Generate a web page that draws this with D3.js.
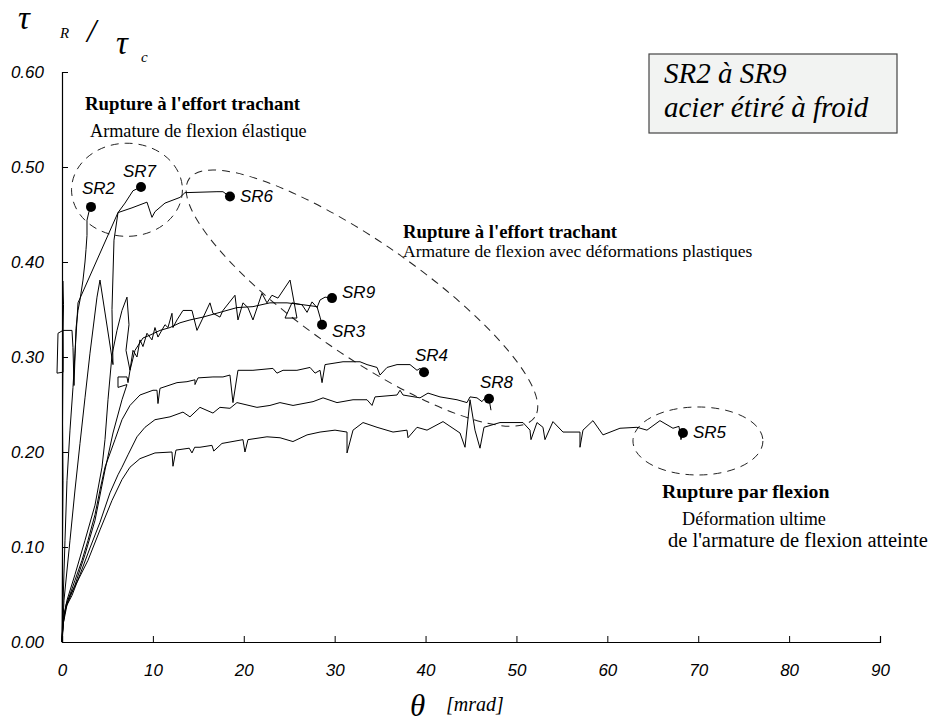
<!DOCTYPE html>
<html><head><meta charset="utf-8">
<script src="https://cdn.jsdelivr.net/npm/d3@7"></script>
<style>body{margin:0;background:#fff} svg{display:block}</style>
</head><body>
<svg id="c" width="948" height="722"></svg>
<script>
const xTicks = [0,10,20,30,40,50,60,70,80,90];
const yTicks = [0,0.1,0.2,0.3,0.4,0.5,0.6];
const specimens = ["SR2","SR7","SR6","SR9","SR3","SR4","SR8","SR5"];
const failTheta = [3.19, 8.69, 18.48, 29.71, 28.61, 39.83, 46.98, 68.32];
const failTau   = [0.458,0.479,0.469,0.362,0.334,0.284,0.256,0.220];

const SR2 = [[0,0],[0.03,0.04],[0.06,0.11],[0.11,0.17],[0.06,0.23],[0.11,0.30],[0.06,0.36],[0.09,0.38],[0.17,0.355],[0.11,0.328],[-0.44,0.325],[-0.55,0.283],[0.11,0.284],[0.11,0.328],[1.10,0.328],[1.21,0.31],[1.32,0.27],[1.43,0.30],[1.54,0.33],[1.76,0.349],[1.98,0.360],[2.31,0.381],[2.53,0.400],[2.64,0.413],[2.75,0.428],[2.75,0.444],[2.97,0.453],[3.19,0.458]];
const SR7 = [[0,0],[0.11,0.04],[0.33,0.107],[0.55,0.17],[0.88,0.223],[1.21,0.268],[1.43,0.304],[1.65,0.339],[1.76,0.357],[6.16,0.452],[6.93,0.462],[7.81,0.475],[8.69,0.479]];
const SR6 = [[0,0],[0.22,0.044],[0.88,0.107],[1.43,0.160],[1.98,0.209],[2.53,0.257],[3.08,0.304],[3.85,0.363],[4.18,0.381],[5.61,0.292],[5.50,0.35],[5.72,0.423],[6.16,0.452],[7.70,0.457],[9.35,0.463],[9.90,0.447],[10.23,0.453],[11.33,0.462],[12.98,0.468],[13.53,0.473],[17.05,0.474],[17.71,0.474],[18.15,0.471],[18.48,0.469]];
const SR9 = [[0,0],[0.11,0.023],[0.55,0.044],[1.43,0.071],[2.53,0.107],[3.63,0.144],[4.40,0.184],[4.73,0.213],[5.06,0.255],[5.50,0.302],[6.05,0.328],[6.60,0.349],[7.15,0.363],[7.37,0.334],[7.04,0.307],[7.48,0.286],[7.81,0.307],[8.25,0.300],[8.58,0.318],[8.91,0.311],[9.35,0.325],[9.90,0.318],[10.23,0.331],[10.56,0.321],[11.33,0.334],[11.66,0.331],[12.10,0.346],[12.21,0.331],[12.65,0.339],[13.31,0.349],[14.30,0.349],[14.85,0.328],[15.40,0.339],[16.28,0.357],[16.61,0.346],[17.38,0.342],[17.71,0.349],[19.03,0.365],[19.36,0.339],[19.91,0.357],[20.46,0.352],[21.01,0.339],[22.00,0.367],[22.55,0.357],[23.10,0.365],[23.76,0.362],[25.09,0.381],[25.85,0.341],[24.54,0.341],[25.30,0.357],[26.41,0.355],[26.96,0.347],[27.51,0.358],[28.06,0.352],[28.39,0.360],[28.94,0.363],[29.71,0.362]];
const SR3 = [[0,0],[0.11,0.018],[0.55,0.039],[1.43,0.060],[2.53,0.092],[3.63,0.128],[4.73,0.181],[5.61,0.220],[6.60,0.255],[7.15,0.271],[6.16,0.268],[6.16,0.279],[7.15,0.279],[7.26,0.273],[7.48,0.286],[8.03,0.307],[8.91,0.320],[9.68,0.323],[10.78,0.328],[11.88,0.331],[12.98,0.336],[14.08,0.339],[15.51,0.342],[17.38,0.347],[19.25,0.352],[21.01,0.353],[22.88,0.357],[24.76,0.357],[26.52,0.355],[28.06,0.353],[28.39,0.342],[28.61,0.334]];
const SR4 = [[0,0],[0.22,0.028],[0.66,0.044],[1.43,0.065],[2.20,0.086],[2.86,0.107],[3.63,0.134],[4.18,0.160],[4.73,0.184],[5.83,0.213],[6.60,0.234],[7.48,0.249],[8.58,0.260],[10.01,0.265],[10.45,0.265],[10.56,0.251],[10.78,0.267],[12.65,0.273],[13.75,0.274],[14.63,0.276],[14.63,0.271],[14.96,0.278],[16.61,0.279],[17.71,0.279],[18.48,0.281],[18.81,0.252],[19.36,0.286],[21.01,0.286],[23.21,0.288],[23.65,0.283],[24.32,0.286],[25.85,0.286],[27.29,0.289],[27.84,0.283],[28.39,0.286],[28.61,0.273],[28.94,0.292],[30.92,0.295],[32.79,0.295],[33.56,0.292],[34.66,0.289],[34.99,0.281],[35.76,0.289],[36.86,0.292],[38.29,0.292],[39.06,0.286],[39.39,0.288],[39.83,0.284]];
const SR8 = [[0,0],[0.11,0.021],[0.44,0.037],[1.10,0.049],[1.98,0.071],[3.08,0.099],[4.18,0.126],[5.28,0.157],[6.16,0.176],[6.60,0.184],[7.26,0.197],[8.25,0.216],[9.13,0.226],[10.23,0.234],[11.88,0.237],[13.31,0.242],[14.08,0.237],[15.18,0.247],[16.61,0.241],[17.38,0.247],[18.48,0.246],[19.25,0.252],[21.45,0.247],[22.88,0.249],[23.98,0.252],[25.42,0.249],[27.62,0.253],[28.72,0.257],[30.26,0.252],[32.02,0.255],[33.56,0.255],[34.11,0.249],[34.44,0.258],[36.86,0.260],[37.19,0.265],[37.52,0.260],[39.39,0.257],[40.27,0.262],[41.59,0.258],[43.46,0.255],[44.56,0.252],[44.89,0.258],[45.66,0.257],[46.21,0.253],[46.54,0.257],[46.98,0.256],[47.20,0.244]];
const SR5 = [[0,0.002],[0.11,0.018],[0.44,0.039],[0.88,0.049],[1.76,0.065],[2.86,0.086],[4.18,0.118],[5.50,0.149],[6.60,0.171],[7.48,0.184],[8.58,0.193],[10.23,0.199],[12.10,0.200],[12.21,0.185],[12.54,0.202],[14.0,0.204],[14.3,0.199],[14.6,0.205],[15.18,0.205],[16.5,0.207],[16.7,0.201],[17.60,0.209],[19.91,0.213],[20.13,0.200],[20.46,0.213],[22.55,0.216],[23.99,0.215],[25.41,0.211],[26.96,0.218],[28.39,0.221],[30.04,0.223],[31.36,0.221],[31.36,0.199],[32.02,0.223],[33.12,0.231],[34.66,0.226],[36.42,0.221],[37.96,0.223],[38.07,0.215],[39.06,0.226],[40.16,0.223],[41.92,0.232],[43.79,0.220],[44.34,0.205],[44.89,0.255],[45.44,0.223],[45.99,0.204],[46.43,0.226],[48.19,0.231],[50.72,0.231],[51.49,0.223],[51.60,0.213],[52.26,0.231],[52.92,0.226],[53.14,0.213],[54.02,0.232],[55.12,0.221],[56.99,0.221],[56.99,0.205],[57.32,0.223],[58.42,0.233],[59.52,0.218],[61.39,0.225],[63.26,0.226],[64.36,0.223],[65.79,0.233],[67.22,0.225],[67.88,0.227],[68.10,0.213],[68.32,0.220]];
const seriesData = [SR2, SR7, SR6, SR9, SR3, SR4, SR8, SR5];

// annotation ellipses: centre (theta, tau), half-axes (theta units, tau units), rotation deg
const ellCx = [7.15, 33.0, 69.97];
const ellCy = [0.476, 0.362, 0.2116];
const ellRx = [6.1, 23.1, 7.15];
const ellRy = [0.049, 0.060, 0.0358];
const ellRot = [0, 34.6, 0];

const svg = d3.select("#c");
const x = d3.scaleLinear().domain([0,90]).range([62,880]);
const y = d3.scaleLinear().domain([0,0.6]).range([642,72]);

// axes
const gx = svg.append("g").attr("transform","translate(0,642)")
  .call(d3.axisBottom(x).tickValues(xTicks).tickSize(-6).tickFormat(d3.format("d")).tickPadding(22));
const gy = svg.append("g").attr("transform","translate(62,0)")
  .call(d3.axisLeft(y).tickValues(yTicks).tickSize(-6).tickFormat(d3.format(".2f")).tickPadding(18));
[gx,gy].forEach(g=>{
  g.select(".domain").attr("stroke","#000").attr("stroke-width",1.2);
  g.selectAll(".tick line").attr("stroke","#000");
  g.selectAll(".tick text").attr("fill","#000").attr("font-style","italic");
});
gy.selectAll(".tick text").attr("font-family","'Liberation Sans', Arial, sans-serif").attr("font-size",17);
gx.selectAll(".tick text").attr("font-family","'Liberation Sans Narrow','Arial Narrow','Liberation Sans',sans-serif").attr("font-size",17);

// ellipses
const ellG = svg.append("g");
ellCx.forEach((cx,i)=>{
  ellG.append("ellipse")
    .attr("transform",`translate(${x(cx)},${y(ellCy[i])}) rotate(${ellRot[i]})`)
    .attr("rx", x(ellRx[i]) - x(0))
    .attr("ry", y(0) - y(ellRy[i]))
    .attr("fill","none").attr("stroke","#222").attr("stroke-width",1)
    .attr("stroke-dasharray","8,6");
});

// curves
const line = d3.line().x(d=>x(d[0])).y(d=>y(d[1]));
svg.append("g").selectAll("path").data(seriesData).join("path")
  .attr("d", line).attr("fill","none").attr("stroke","#000").attr("stroke-width",1)
  .attr("stroke-linejoin","round");

// failure points
svg.append("g").selectAll("circle").data(specimens).join("circle")
  .attr("cx",(d,i)=>x(failTheta[i])).attr("cy",(d,i)=>y(failTau[i])).attr("r",5).attr("fill","#000");

// specimen labels (offset from failure point)
const lblDx = [-9, -18, 10, 10, 10, -9, -9, 10];
const lblDy = [-13, -10, 6, 0, 12, -11, -11, 5];
svg.append("g").selectAll("text").data(specimens).join("text")
  .attr("x",(d,i)=>x(failTheta[i])+lblDx[i]).attr("y",(d,i)=>y(failTau[i])+lblDy[i])
  .attr("font-family","'Liberation Sans', Arial, sans-serif").attr("font-style","italic")
  .attr("font-size",17).text(d=>d);

// axis titles
const serif = "'Liberation Serif','Times New Roman',serif";
const yt = svg.append("g").attr("font-family",serif).attr("font-style","italic");
yt.append("text").attr("x",18).attr("y",29).attr("font-size",33).text("τ");
yt.append("text").attr("x",60).attr("y",38).attr("font-size",15).text("R");
yt.append("text").attr("x",87).attr("y",42).attr("font-size",33).text("/");
yt.append("text").attr("x",116).attr("y",54).attr("font-size",33).text("τ");
yt.append("text").attr("x",141).attr("y",62).attr("font-size",15).text("c");

const xt = svg.append("g").attr("font-family",serif).attr("font-style","italic");
xt.append("text").attr("x",410).attr("y",716).attr("font-size",31).text("θ");
xt.append("text").attr("x",446).attr("y",711).attr("font-size",20).text("[mrad]");

// legend box
svg.append("rect").attr("x",649).attr("y",54).attr("width",248).attr("height",79)
  .attr("fill","#f2f3f2").attr("stroke","#444").attr("stroke-width",1.2);
const lg = svg.append("g").attr("font-family",serif).attr("font-style","italic").attr("font-size",29);
lg.append("text").attr("x",664).attr("y",83).text("SR2 à SR9");
lg.append("text").attr("x",664).attr("y",117).text("acier étiré à froid");

// annotations
const ann = svg.append("g").attr("font-family",serif).attr("fill","#000");
ann.append("text").attr("x",85).attr("y",110).attr("font-size",18.8).attr("font-weight","bold").text("Rupture à l'effort trachant");
ann.append("text").attr("x",90).attr("y",137).attr("font-size",18.2).text("Armature de flexion élastique");
ann.append("text").attr("x",403).attr("y",238).attr("font-size",18.7).attr("font-weight","bold").text("Rupture à l'effort trachant");
ann.append("text").attr("x",403).attr("y",257).attr("font-size",17.5).text("Armature de flexion avec déformations plastiques");
ann.append("text").attr("x",662).attr("y",498).attr("font-size",19.8).attr("font-weight","bold").text("Rupture par flexion");
ann.append("text").attr("x",682).attr("y",525).attr("font-size",18.2).text("Déformation ultime");
ann.append("text").attr("x",668).attr("y",547).attr("font-size",20.5).text("de l'armature de flexion atteinte");
</script>
</body></html>
